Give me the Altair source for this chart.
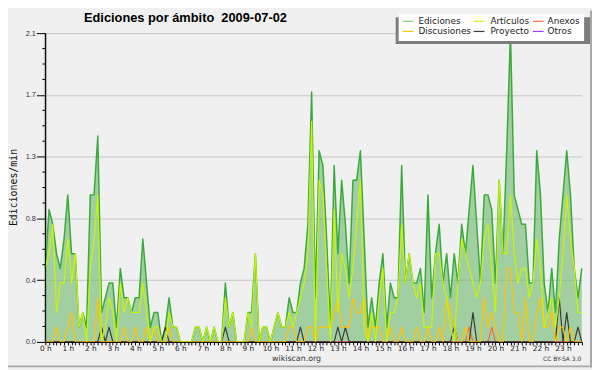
import altair as alt
import pandas as pd

TITLE = "Ediciones por ámbito\u00a0 2009-07-02"
Y_TITLE = "Ediciones/min"
FOOTER_CENTER = "wikiscan.org"
FOOTER_RIGHT = "CC BY-SA 3.0"

# legend entries (2 rows x 3 columns) and colours
SERIES = ["Ediciones", "Artículos", "Anexos", "Discusiones", "Proyecto", "Otros"]
SERIES_COLORS = ["#7fcc7f", "#c8f500", "#ff6633", "#ffc400", "#3a3a3a", "#9a3cff"]
AREA_FILL = "#6eb96e"
LINE_GREEN = "#3aab3a"

# 10-minute slots of the day (0 = 00:00 ... 143 = 23:50)
SLOTS = list(range(144))

Y_TICKS = [0, 0.42, 0.84, 1.26, 1.68, 2.1]
Y_MINOR = [0.105, 0.21, 0.315, 0.525, 0.63, 0.735, 0.945, 1.05, 1.155,
           1.365, 1.47, 1.575, 1.785, 1.89, 1.995]

# edits per minute, one value per 10-minute slot
EDICIONES = [
    0.5, 0.9, 0.8, 0.6, 0.5, 0.7, 1.0, 0.6, 0.6, 0.1, 0.2, 0.1,
    1.0, 1.0, 1.4, 0.2, 0.3, 0.4, 0.4, 0.1, 0.5, 0.3, 0.3, 0.2,
    0.3, 0.3, 0.7, 0.4, 0.1, 0.2, 0.2, 0.0, 0.1, 0.3, 0.1, 0.1,
    0.0, 0.0, 0.0, 0.0, 0.1, 0.1, 0.0, 0.1, 0.0, 0.1, 0.0, 0.0,
    0.4, 0.1, 0.2, 0.0, 0.0, 0.0, 0.2, 0.2, 0.6, 0.0, 0.1, 0.1,
    0.0, 0.1, 0.2, 0.1, 0.1, 0.3, 0.2, 0.2, 0.4, 0.5, 0.8, 1.7,
    0.3, 1.3, 1.2, 0.7, 0.1, 1.2, 0.6, 1.1, 0.8, 0.4, 1.1, 1.1,
    1.3, 0.7, 0.1, 0.3, 0.1, 0.4, 0.6, 0.1, 0.4, 0.3, 0.3, 1.2,
    0.4, 0.6, 0.4, 0.4, 0.5, 0.2, 1.0, 0.3, 0.6, 0.8, 0.4, 0.6,
    0.3, 0.6, 0.4, 0.8, 0.6, 0.9, 1.2, 0.8, 0.4, 1.0, 1.0, 0.9,
    0.4, 1.1, 0.6, 1.3, 2.1, 1.0, 0.9, 0.8, 0.8, 0.4, 0.4, 1.3,
    1.0, 0.4, 0.2, 0.5, 0.2, 0.7, 1.0, 1.3, 1.0, 0.5, 0.3, 0.5,
]
ARTICULOS = [
    0.5, 0.6, 0.8, 0.2, 0.4, 0.4, 0.7, 0.4, 0.6, 0.1, 0.2, 0.0,
    0.5, 0.7, 1.0, 0.0, 0.1, 0.3, 0.2, 0.0, 0.4, 0.2, 0.3, 0.2,
    0.2, 0.2, 0.4, 0.2, 0.0, 0.1, 0.1, 0.0, 0.0, 0.2, 0.1, 0.1,
    0.0, 0.0, 0.0, 0.0, 0.1, 0.1, 0.0, 0.1, 0.0, 0.1, 0.0, 0.0,
    0.3, 0.1, 0.2, 0.0, 0.0, 0.0, 0.2, 0.1, 0.6, 0.0, 0.1, 0.1,
    0.0, 0.1, 0.2, 0.1, 0.1, 0.2, 0.1, 0.2, 0.3, 0.4, 0.6, 1.5,
    0.0, 1.1, 1.0, 0.5, 0.0, 0.9, 0.2, 0.6, 0.5, 0.3, 0.5, 0.8,
    1.1, 0.1, 0.0, 0.2, 0.0, 0.3, 0.5, 0.0, 0.2, 0.2, 0.3, 0.8,
    0.4, 0.6, 0.4, 0.3, 0.4, 0.1, 0.1, 0.1, 0.6, 0.6, 0.4, 0.3,
    0.1, 0.0, 0.4, 0.7, 0.6, 0.5, 0.4, 0.3, 0.4, 0.7, 0.8, 0.5,
    0.2, 1.1, 0.6, 0.6, 1.0, 0.6, 0.4, 0.5, 0.5, 0.3, 0.4, 0.7,
    0.5, 0.1, 0.2, 0.3, 0.1, 0.3, 0.6, 1.0, 0.7, 0.5, 0.2, 0.2,
]
DISCUSIONES = [
    0, 0, 0, 0.1, 0, 0, 0.1, 0.2, 0, 0, 0, 0,
    0, 0, 0.3, 0, 0, 0, 0, 0, 0, 0.1, 0, 0,
    0.1, 0, 0, 0.1, 0, 0.1, 0, 0, 0, 0.1, 0, 0,
    0, 0, 0, 0, 0, 0, 0, 0, 0, 0, 0, 0,
    0, 0, 0, 0, 0, 0, 0, 0.1, 0, 0, 0, 0,
    0, 0, 0, 0, 0, 0.1, 0.1, 0, 0, 0, 0.1, 0.1,
    0, 0.1, 0.1, 0.1, 0.1, 0.2, 0.3, 0.1, 0.1, 0.1, 0.3, 0.2,
    0.2, 0.3, 0, 0.1, 0.1, 0.1, 0, 0, 0.1, 0, 0, 0.1,
    0, 0, 0, 0.1, 0, 0, 0.1, 0, 0, 0.1, 0, 0.3,
    0.2, 0.1, 0, 0, 0.1, 0, 0, 0, 0, 0.3, 0.1, 0.2,
    0.1, 0, 0, 0.5, 0.5, 0.2, 0.2, 0, 0.3, 0, 0, 0.2,
    0.3, 0.1, 0.1, 0.2, 0, 0.1, 0.1, 0, 0.1, 0, 0, 0,
]
PROYECTO = [
    0, 0, 0, 0, 0, 0, 0, 0, 0, 0, 0, 0,
    0, 0, 0, 0.1, 0, 0.1, 0, 0, 0, 0, 0, 0,
    0, 0, 0, 0, 0, 0, 0, 0, 0.1, 0, 0, 0,
    0, 0, 0, 0, 0, 0, 0, 0, 0, 0, 0, 0,
    0.1, 0, 0, 0, 0, 0, 0, 0, 0, 0, 0, 0,
    0, 0, 0, 0, 0, 0, 0, 0, 0.1, 0, 0, 0,
    0, 0, 0, 0, 0, 0, 0.1, 0, 0.1, 0, 0, 0,
    0, 0, 0, 0, 0, 0, 0, 0, 0, 0, 0, 0,
    0, 0, 0, 0, 0, 0, 0, 0, 0, 0, 0, 0,
    0, 0.1, 0, 0, 0, 0, 0.2, 0, 0, 0, 0, 0,
    0, 0, 0, 0, 0, 0, 0, 0, 0, 0, 0, 0,
    0, 0, 0, 0, 0, 0.3, 0, 0.2, 0, 0, 0.1, 0,
]
ANEXOS = [
    0, 0, 0, 0, 0, 0, 0, 0, 0, 0, 0, 0,
    0, 0, 0, 0, 0, 0, 0, 0, 0, 0, 0, 0,
    0, 0, 0, 0, 0, 0, 0, 0, 0, 0, 0, 0,
    0, 0, 0, 0, 0, 0, 0, 0, 0, 0, 0, 0,
    0, 0, 0, 0, 0, 0, 0, 0, 0, 0, 0, 0,
    0, 0, 0, 0, 0, 0, 0, 0, 0, 0, 0, 0,
    0, 0, 0, 0, 0, 0, 0, 0, 0, 0, 0, 0,
    0, 0, 0, 0, 0, 0, 0, 0, 0, 0, 0, 0,
    0, 0, 0, 0, 0, 0, 0, 0, 0, 0, 0, 0,
    0, 0, 0, 0, 0, 0.1, 0, 0, 0, 0, 0, 0.1,
    0, 0, 0, 0, 0, 0, 0, 0, 0, 0, 0, 0,
    0, 0, 0, 0, 0, 0, 0, 0, 0, 0, 0, 0,
]
OTROS = [
    0, 0, 0, 0, 0, 0, 0, 0, 0, 0, 0, 0,
    0, 0, 0, 0, 0, 0, 0, 0, 0, 0, 0, 0,
    0, 0, 0, 0, 0, 0, 0, 0, 0, 0, 0, 0,
    0, 0, 0, 0, 0, 0, 0, 0, 0, 0, 0, 0,
    0, 0, 0, 0, 0, 0, 0, 0, 0, 0, 0, 0,
    0, 0, 0, 0, 0, 0, 0, 0, 0, 0, 0, 0,
    0, 0, 0, 0, 0, 0, 0, 0, 0, 0, 0, 0,
    0, 0, 0, 0, 0, 0, 0, 0, 0, 0, 0, 0,
    0, 0, 0, 0, 0, 0, 0, 0, 0, 0, 0, 0,
    0, 0, 0, 0, 0, 0, 0, 0, 0, 0, 0, 0,
    0, 0, 0, 0, 0, 0, 0, 0, 0, 0, 0, 0,
    0, 0, 0, 0, 0, 0, 0, 0, 0, 0, 0, 0,
]

# ---------------------------------------------------------------- scales/axes
x_scale = alt.Scale(domain=[0, 143], nice=False, zero=False)
y_scale = alt.Scale(domain=[0, 2.1], nice=False)

x_axis = alt.Axis(
    values=SLOTS, labelExpr="datum.value % 6 == 0 ? (datum.value / 6) + ' h' : ''",
    tickSize=3, tickColor="black", domainColor="black", grid=False,
    labelFont="DejaVu Sans", labelFontSize=7.5, labelColor="#222",
    labelOverlap=False, labelFlush=False, labelPadding=0, title=None, zindex=1,
)
y_axis = alt.Axis(
    values=Y_TICKS, format=".1f", tickSize=9, tickColor="black", domainColor="black",
    grid=True, gridColor="#c4c4c4", labelFont="Liberation Sans", labelFontSize=7.5,
    labelColor="#333", labelPadding=1, title=None, zindex=0,
)

X = alt.X("t:Q", scale=x_scale, axis=x_axis)
Y = alt.Y("v:Q", scale=y_scale, axis=y_axis)

color_scale = alt.Scale(domain=SERIES, range=SERIES_COLORS)

# ---------------------------------------------------------------- layers
tot = pd.DataFrame({"t": SLOTS, "v": EDICIONES})

area = alt.Chart(tot).mark_area(fill=AREA_FILL, opacity=0.6).encode(x=X, y=Y)
green_line = alt.Chart(tot).mark_line(
    color=LINE_GREEN, strokeWidth=1.5, strokeJoin="round").encode(x=X, y=Y)

line_layers = []
for name, vals in [("Otros", OTROS), ("Anexos", ANEXOS), ("Proyecto", PROYECTO),
                   ("Discusiones", DISCUSIONES), ("Artículos", ARTICULOS)]:
    df = pd.DataFrame({"t": SLOTS, "v": vals, "serie": name})
    line_layers.append(
        alt.Chart(df).mark_line(strokeWidth=1.2, strokeJoin="round").encode(
            x=X, y=Y, color=alt.Color("serie:N", scale=color_scale, legend=None)
        )
    )

minor = alt.Chart(pd.DataFrame({"v": Y_MINOR})).mark_rule(color="black").encode(
    y=Y, x=alt.value(-3), x2=alt.value(0))

one = pd.DataFrame({"k": [0]})
y_domain = alt.Chart(one).mark_rule(color="black", strokeWidth=1).encode(
    x=alt.value(0), y=alt.value(0), y2=alt.value(313))

# legend drawn by hand: shadow, white box, swatch + label per entry
shadow = alt.Chart(one).mark_rect(color="#7d7d7d").encode(
    x=alt.value(355.2), x2=alt.value(553.2), y=alt.value(-16), y2=alt.value(11))
box = alt.Chart(one).mark_rect(color="white").encode(
    x=alt.value(358.2), x2=alt.value(546.2), y=alt.value(-19), y2=alt.value(8))

COL_SWATCH_X = [362.2, 434.2, 494.2]
COL_LABEL_X = [378.2, 451.2, 509.2]
ROW_Y = [-12, -1.7]
legend_layers = []
for k, (name, col) in enumerate(zip(SERIES, SERIES_COLORS)):
    c, r = k % 3, k // 3
    legend_layers.append(
        alt.Chart(one).mark_rule(color=col, strokeWidth=1.2).encode(
            x=alt.value(COL_SWATCH_X[c]), x2=alt.value(COL_SWATCH_X[c] + 11),
            y=alt.value(ROW_Y[r]))
    )
    legend_layers.append(
        alt.Chart(pd.DataFrame({"s": [name]})).mark_text(
            font="DejaVu Sans", fontSize=9, color="#222", align="left",
            baseline="middle").encode(
            text="s:N", x=alt.value(COL_LABEL_X[c]), y=alt.value(ROW_Y[r]))
    )

# outer frame (right and bottom edges of the picture)
frame_r = alt.Chart(one).mark_rule(color="#a8a8a8", strokeWidth=2).encode(
    x=alt.value(553.2), y=alt.value(-23), y2=alt.value(339))
frame_b = alt.Chart(one).mark_rule(color="#a8a8a8", strokeWidth=2).encode(
    y=alt.value(337.8), x=alt.value(-37.8), x2=alt.value(554.2))

title = alt.Chart(pd.DataFrame({"s": [TITLE]})).mark_text(
    font="Liberation Sans", fontSize=13, fontWeight="bold", color="black",
    align="left", baseline="alphabetic").encode(
    text="s:N", x=alt.value(39.2), y=alt.value(-11.5))

y_title = alt.Chart(pd.DataFrame({"s": [Y_TITLE]})).mark_text(
    font="DejaVu Sans Mono", fontSize=10, color="#111", angle=270,
    align="center", baseline="middle").encode(
    text="s:N", x=alt.value(-31.8), y=alt.value(156.5))

foot_c = alt.Chart(pd.DataFrame({"s": [FOOTER_CENTER]})).mark_text(
    font="DejaVu Sans", fontSize=8, color="#333", align="center",
    baseline="alphabetic").encode(text="s:N", x=alt.value(254.7), y=alt.value(332))

foot_r = alt.Chart(pd.DataFrame({"s": [FOOTER_RIGHT]})).mark_text(
    font="DejaVu Sans", fontSize=6, color="#333", align="right",
    baseline="alphabetic").encode(text="s:N", x=alt.value(543.2), y=alt.value(332))

chart = alt.layer(
    area, green_line, *line_layers, minor, y_domain, shadow, box, *legend_layers,
    frame_r, frame_b, title, y_title, foot_c, foot_r
).properties(
    width=543.8, height=313,
    autosize=alt.AutoSizeParams(type="none"),
    padding={"left": 37.8, "top": 23, "right": 10.4, "bottom": 26},
    background="#f0f0f0",
).configure_view(strokeWidth=0)

chart.save("out.html", embed_options={"renderer": "svg", "actions": False})
